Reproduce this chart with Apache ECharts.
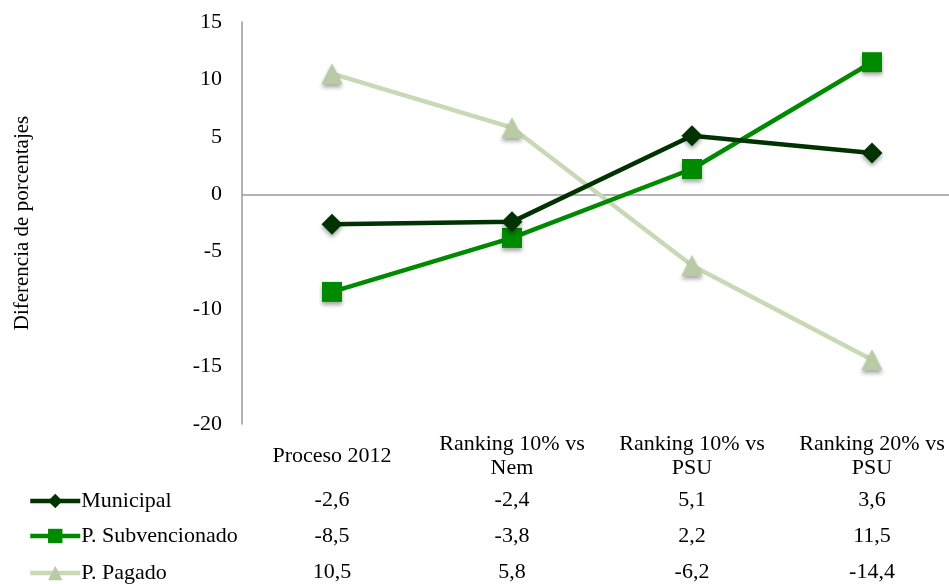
<!DOCTYPE html>
<html>
<head>
<meta charset="utf-8">
<script src="https://cdn.jsdelivr.net/npm/echarts@6/dist/echarts.min.js"></script>
<style>
  html, body { margin: 0; padding: 0; background: #ffffff; }
  #chart { width: 949px; height: 584px; }
</style>
</head>
<body>
<div id="chart"></div>
<script>
// Categories along the x axis
var categories = ['Proceso 2012', 'Ranking 10% vs\nNem', 'Ranking 10% vs\nPSU', 'Ranking 20% vs\nPSU'];

// Series values (percentage-point differences)
var municipal = [-2.6, -2.4, 5.1, 3.6];
var subvencionado = [-8.5, -3.8, 2.2, 11.5];
var pagado = [10.5, 5.8, -6.2, -14.4];

var seriesNames = ['Municipal', 'P. Subvencionado', 'P. Pagado'];
var seriesData = [municipal, subvencionado, pagado];

// Y axis ticks
var yTicks = [-20, -15, -10, -5, 0, 5, 10, 15];

var FONT = 'Liberation Serif';
var FS = 22;
var colors = ['#003300', '#008a00', '#c8d9b6'];
var markerColors = ['#003300', '#008a00', '#b9cba4'];
var symbols = ['diamond', 'rect', 'triangle'];
var symbolSizes = [21, 20, 21];

var chart = echarts.init(document.getElementById('chart'), null, { renderer: 'canvas' });

function fmt(v) { return String(v).replace('.', ','); }

var series = seriesData.map(function (d, i) {
  var s = {
    name: seriesNames[i],
    type: 'line',
    data: d,
    symbol: symbols[i],
    symbolSize: symbolSizes[i],
    lineStyle: { color: colors[i], width: 4.5 },
    itemStyle: {
      color: markerColors[i],
      shadowColor: 'rgba(0,0,0,0.35)',
      shadowBlur: 4,
      shadowOffsetY: 3
    },
    z: 10 - i,
    animation: false
  };
  if (i === 0) {
    s.markLine = {
      silent: true,
      symbol: 'none',
      label: { show: false },
      lineStyle: { color: '#9a9a9a', width: 1.5, type: 'solid' },
      data: [{ yAxis: 0 }],
      z: 1
    };
  }
  return s;
});

// One legend entry per table row
var legendTops = [490, 525, 562];
var legends = seriesNames.map(function (n, i) {
  return {
    orient: 'horizontal',
    left: 28,
    top: legendTops[i],
    padding: 0,
    itemWidth: 50,
    itemHeight: 18,
    lineStyle: { width: 4.5 },
    itemStyle: { shadowBlur: 0, shadowOffsetY: 0 },
    textStyle: { fontFamily: FONT, fontSize: FS, color: '#000000', padding: [0, 0, 0, -4] },
    data: [n]
  };
});

chart.setOption({
  animation: false,
  backgroundColor: '#ffffff',
  grid: {
    left: 242, top: 22, width: 720, height: 402,
    containLabel: false,
    outerBoundsMode: 'none'
  },
  xAxis: {
    type: 'category',
    data: categories,
    boundaryGap: true,
    axisLine: { show: false },
    axisTick: { show: false },
    axisLabel: {
      interval: 0,
      margin: 32,
      verticalAlign: 'middle',
      fontFamily: FONT,
      fontSize: FS,
      lineHeight: 24,
      color: '#000000'
    }
  },
  yAxis: {
    type: 'value',
    min: yTicks[0],
    max: yTicks[yTicks.length - 1],
    interval: 5,
    name: 'Diferencia de porcentajes',
    nameLocation: 'middle',
    nameGap: 209,
    nameRotate: 90,
    nameTextStyle: { fontFamily: FONT, fontSize: 21, color: '#000000' },
    axisLine: { show: true, lineStyle: { color: '#9a9a9a', width: 1.5 } },
    axisTick: { show: false },
    splitLine: { show: false },
    axisLabel: { margin: 20, fontFamily: FONT, fontSize: FS, color: '#000000' }
  },
  legend: legends,
  series: series
});

// Data table rows beneath the categories, positioned with the chart's own axis
var rowY = [500, 536, 572];
var elements = [];
seriesData.forEach(function (d, r) {
  d.forEach(function (v, c) {
    var x = chart.convertToPixel({ xAxisIndex: 0 }, c);
    elements.push({
      type: 'text',
      x: x,
      y: rowY[r],
      style: {
        text: fmt(v),
        fontFamily: FONT,
        fontSize: FS,
        fill: '#000000',
        align: 'center',
        verticalAlign: 'middle'
      }
    });
  });
});
chart.setOption({ graphic: elements });
</script>
</body>
</html>
